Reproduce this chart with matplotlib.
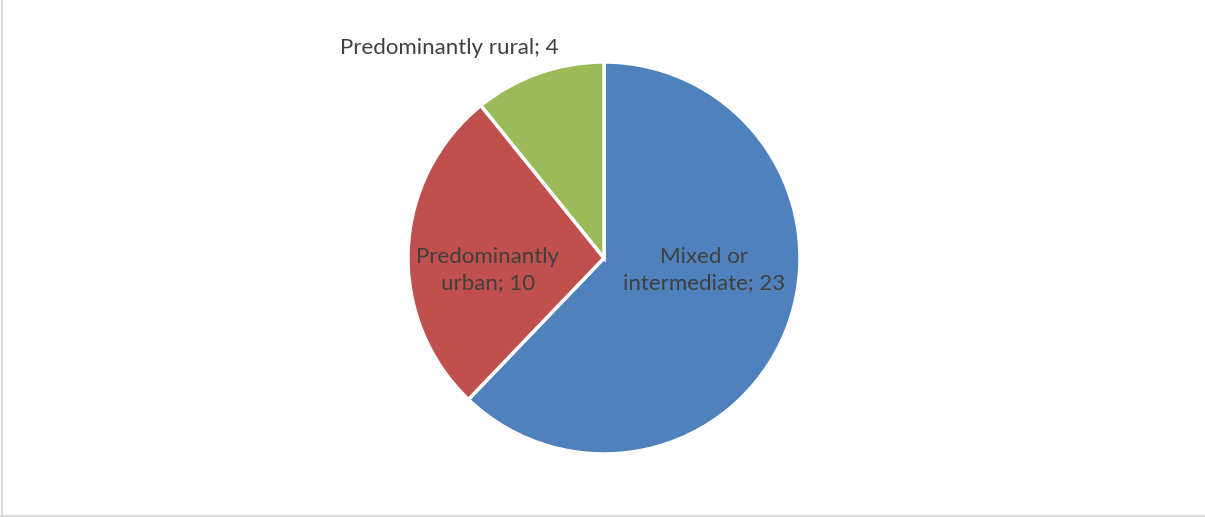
import matplotlib
matplotlib.use("Agg")
import matplotlib.pyplot as plt
from matplotlib.lines import Line2D

categories = ["Mixed or\nintermediate", "Predominantly\nurban", "Predominantly rural"]
values = [23, 10, 4]
colors = ["#4F81BD", "#C0504D", "#9BBB59"]

W, H = 1205, 517
fig = plt.figure(figsize=(W / 100, H / 100), dpi=100)
ax = fig.add_axes([0, 0, 1, 1])

cx, cy, r = 604, H - 258, 196
ax.pie(values, colors=colors, startangle=90, counterclock=False,
       center=(cx, cy), radius=r, frame=True,
       wedgeprops=dict(edgecolor="white", linewidth=2.5))
ax.set_xlim(0, W)
ax.set_ylim(0, H)
ax.set_aspect("equal")
ax.axis("off")

font = dict(family=["Lato", "DejaVu Sans"], fontsize=16, color="#404040",
            ha="center", va="center", linespacing=1.35)
label_pos = [(704, H - 270), (488, H - 270), (449, H - 48)]
for name, v, (x, y) in zip(categories, values, label_pos):
    ax.text(x, y, f"{name}; {v}", **font)

# chart area border (left and bottom edges)
fig.add_artist(Line2D([1.5 / W, 1.5 / W], [0, 1], transform=fig.transFigure,
                      color="#D9D9D9", linewidth=1.5))
fig.add_artist(Line2D([0, 1], [1.5 / H, 1.5 / H], transform=fig.transFigure,
                      color="#D9D9D9", linewidth=1.5))

fig.savefig("out.png", dpi=100, facecolor="white")
